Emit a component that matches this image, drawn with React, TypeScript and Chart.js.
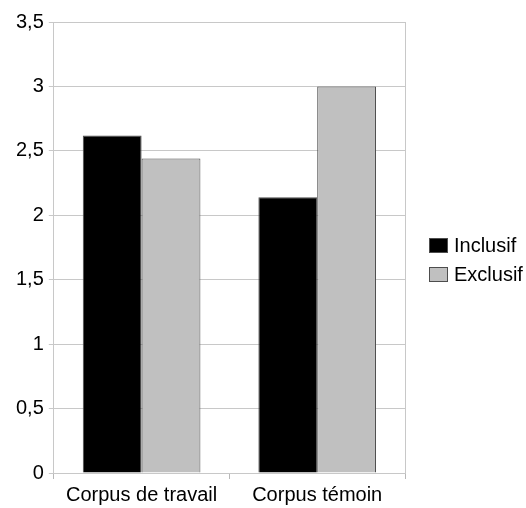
import React, { useEffect, useRef } from "react";
import { Chart, registerables } from "chart.js";

Chart.register(...registerables);

const categories = ["Corpus de travail", "Corpus témoin"];
const seriesNames = ["Inclusif", "Exclusif"];
const inclusifValues = [2.62, 2.14];
const exclusifValues = [2.44, 3.0];
const seriesColors = ["#000000", "#c0c0c0"];

const FONT = "'Liberation Sans', Arial, Helvetica, sans-serif";

const legendPlugin = {
  id: "sideLegend",
  afterDraw(chart: any) {
    const ctx = chart.ctx;
    const area = chart.chartArea;
    const x = area.right + 24;
    const cy = (area.top + area.bottom) / 2 + 12.5;
    const gap = 29;
    ctx.save();
    ctx.font = `20px ${FONT}`;
    ctx.textBaseline = "middle";
    ctx.textAlign = "left";
    chart.data.datasets.forEach((ds: any, i: number) => {
      const y = cy + (i - 0.5) * gap;
      ctx.fillStyle = ds.backgroundColor;
      ctx.fillRect(x, y - 7.5, 19, 15);
      ctx.strokeStyle = "#4d4d4d";
      ctx.lineWidth = 1;
      ctx.strokeRect(x + 0.5, y - 7, 18, 14);
      ctx.fillStyle = "#000";
      ctx.fillText(ds.label, x + 25, y + 1);
    });
    ctx.restore();
  },
};

export default function App() {
  const ref = useRef<HTMLCanvasElement>(null);
  useEffect(() => {
    const chart = new Chart(ref.current as HTMLCanvasElement, {
      type: "bar",
      data: {
        labels: categories,
        datasets: [
          {
            label: seriesNames[0],
            data: inclusifValues,
            backgroundColor: seriesColors[0],
            borderColor: "#4d4d4d",
            borderWidth: 1,
            categoryPercentage: 0.67,
            barPercentage: 1,
          },
          {
            label: seriesNames[1],
            data: exclusifValues,
            backgroundColor: seriesColors[1],
            borderColor: "#4d4d4d",
            borderWidth: 1,
            categoryPercentage: 0.67,
            barPercentage: 1,
          },
        ],
      },
      options: {
        responsive: false,
        animation: false,
        layout: { padding: { left: 11, right: 121, top: 22, bottom: -3 } },
        plugins: {
          legend: { display: false },
          tooltip: { enabled: false },
        },
        scales: {
          x: {
            grid: {
              offset: true,
              color: (c: any) => (c.index === 1 ? "rgba(0,0,0,0)" : "#c8c8c8"),
              tickColor: "#b8b8b8",
              tickLength: 6,
              lineWidth: 1,
            },
            border: { color: "#c8c8c8" },
            ticks: {
              color: "#000",
              font: { family: FONT, size: 20 },
              padding: 4,
            },
          },
          y: {
            min: 0,
            max: 3.5,
            ticks: {
              stepSize: 0.5,
              color: "#000",
              font: { family: FONT, size: 20 },
              padding: 5,
              callback: (v: any) => String(v).replace(".", ","),
            },
            grid: {
              color: "#c8c8c8",
              tickColor: "#c8c8c8",
              tickLength: 5,
            },
            border: { color: "#c8c8c8" },
          },
        },
      },
      plugins: [legendPlugin],
    });
    return () => chart.destroy();
  }, []);
  return (
    <div style={{ position: "fixed", left: 0, top: 0, width: 526, height: 508, background: "#fff" }}>
      <canvas ref={ref} width={526} height={508} />
    </div>
  );
}
